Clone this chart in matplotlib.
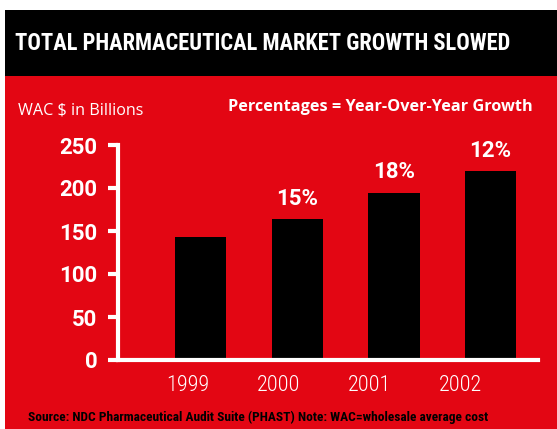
import matplotlib
matplotlib.use("Agg")
import matplotlib.pyplot as plt
from matplotlib.patches import Rectangle
from matplotlib import font_manager
import numpy as np

years = ["1999", "2000", "2001", "2002"]
values = [142.7, 163.6, 194.2, 219.4]
growth = ["", "15%", "18%", "12%"]
yticks = [0, 50, 100, 150, 200, 250]

names = {f.name for f in font_manager.fontManager.ttflist}
NARROW = "DejaVu Sans"
for cand in ["Liberation Sans Narrow", "Roboto Condensed", "Open Sans Condensed", "Arial Narrow"]:
    if cand in names:
        NARROW = cand
        break

RED = "#E30613"
W, H = 557, 429
fig = plt.figure(figsize=(W / 100, H / 100), dpi=100)
fig.patch.set_facecolor("white")

def fx(px):
    return px / W

def fy(py):
    return 1 - py / H

fig.patches.append(Rectangle((fx(5), fy(429)), fx(552), (429 - 76) / H,
                             transform=fig.transFigure, facecolor=RED, edgecolor="none", zorder=-5))
fig.patches.append(Rectangle((fx(5), fy(76)), fx(552), (76 - 10) / H,
                             transform=fig.transFigure, facecolor="black", edgecolor="none", zorder=-5))

renderer = fig.canvas.get_renderer()

def fit(t, width_px):
    for _ in range(2):
        bb = t.get_window_extent(renderer)
        t.set_fontsize(t.get_fontsize() * width_px / bb.width)

t1 = fig.text(fx(15), fy(43), "TOTAL PHARMACEUTICAL MARKET GROWTH SLOWED", color="white",
              fontsize=15, fontweight="bold", family=NARROW, fontstretch="condensed",
              ha="left", va="center")
fit(t1, 497)
t2 = fig.text(fx(18), fy(111), "WAC $ in Billions", color="white", fontsize=11.5,
              family="Open Sans", ha="left", va="center")
fit(t2, 125)
t3 = fig.text(fx(228), fy(107), "Percentages = Year-Over-Year Growth", color="white", fontsize=11.5,
              fontweight="bold", family="Open Sans", ha="left", va="center")
fit(t3, 305)
t4 = fig.text(fx(28), fy(417), "Source: NDC Pharmaceutical Audit Suite (PHAST) Note: WAC=wholesale average cost",
              color="black", fontsize=9, fontweight="bold", family=NARROW, fontstretch="condensed",
              ha="left", va="center")
fit(t4, 461)

ax = fig.add_axes([fx(118), fy(360), fx(538 - 118), (360 - 145) / H])
ax.set_facecolor("none")
x = np.arange(len(years))
ax.bar(x, values, width=0.53, color="black", zorder=2)
ax.set_xlim(-0.853, 3.49)
ax.set_ylim(0, 250)
for xi, v, g in zip(x, values, growth):
    if g:
        ax.annotate(g, (xi, v), xytext=(0, 7), textcoords="offset points", ha="center",
                    va="bottom", color="white", fontsize=16, family="Roboto", fontweight="bold")

for s in ["top", "right"]:
    ax.spines[s].set_visible(False)
for s in ["left", "bottom"]:
    ax.spines[s].set_color("white")
    ax.spines[s].set_linewidth(3)
ax.set_yticks(yticks)
ax.set_yticklabels([str(t) for t in yticks], color="white", fontsize=16, family="Roboto",
                   fontweight="bold")
ax.tick_params(axis="y", colors="white", length=7, width=3, pad=8)
ax.set_xticks(np.arange(len(years)) * 0.938 - 0.13)
ax.set_xticklabels(years, color="white", fontsize=16, family=NARROW, fontstretch="condensed",
                   fontweight="light")
ax.tick_params(axis="x", length=0, pad=11)

fig.savefig("out.png", dpi=100)
